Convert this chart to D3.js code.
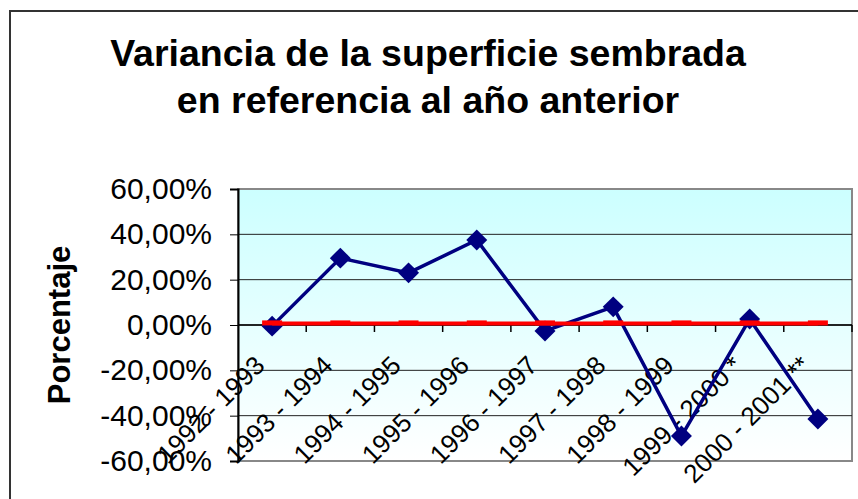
<!DOCTYPE html>
<style>
body { margin: 0; background: #fff; }
text { font-family: Arial, "Liberation Sans", sans-serif; }
</style>
<body>
<script src="https://d3js.org/d3.v7.min.js"></script>
<script>
var width = 858, height = 499;

// chart values
var categories = ["1992 - 1993", "1993 - 1994", "1994 - 1995", "1995 - 1996", "1996 - 1997",
                  "1997 - 1998", "1998 - 1999", "1999 - 2000 *", "2000 - 2001 **"];
var variance = [-0.005, 0.295, 0.23, 0.375, -0.026, 0.08, -0.49, 0.026, -0.415];
var reference = [0.007, 0.007, 0.007, 0.007, 0.007, 0.007, 0.007, 0.007, 0.007];
var yTicks = [0.6, 0.4, 0.2, 0, -0.2, -0.4, -0.6];
var titleLines = ["Variancia de la superficie sembrada", "en referencia al año anterior"];

var svg = d3.select("body").append("svg")
    .attr("width", width)
    .attr("height", height);

var locale = d3.formatLocale({decimal: ",", thousands: ".", grouping: [3], currency: ["", "€"], minus: "-"});
var fmt = locale.format(".2%");

var x = d3.scaleBand().domain(categories).range([238, 852]);
var y = d3.scaleLinear().domain([-0.6, 0.6]).range([461, 189]);

// outer chart border
svg.append("rect")
   .attr("x", 10).attr("y", 11)
   .attr("width", 900).attr("height", 600)
   .attr("fill", "none")
   .attr("stroke", "#333")
   .attr("stroke-width", 2);

// title
svg.append("g").selectAll("text")
   .data(titleLines)
   .enter().append("text")
   .attr("x", 428)
   .attr("y", function(d, i) { return 66 + i * 47; })
   .attr("text-anchor", "middle")
   .attr("font-size", 37.5)
   .attr("font-weight", "bold")
   .text(function(d) { return d; });

// plot background
var grad = svg.append("defs").append("linearGradient")
   .attr("id", "bg").attr("x1", 0).attr("y1", 0).attr("x2", 0).attr("y2", 1);
grad.append("stop").attr("offset", "0%").attr("stop-color", "#ccffff");
grad.append("stop").attr("offset", "100%").attr("stop-color", "#ffffff");

svg.append("rect")
   .attr("x", x.range()[0]).attr("y", y(0.6))
   .attr("width", x.range()[1] - x.range()[0])
   .attr("height", y(-0.6) - y(0.6))
   .attr("fill", "url(#bg)")
   .attr("stroke", "#888")
   .attr("stroke-width", 2);

// gridlines
svg.append("g").selectAll("line")
   .data(yTicks.filter(function(d) { return Math.abs(d) < 0.6; }))
   .enter().append("line")
   .attr("x1", x.range()[0]).attr("x2", x.range()[1])
   .attr("y1", function(d) { return y(d); })
   .attr("y2", function(d) { return y(d); })
   .attr("stroke", "#222")
   .attr("stroke-width", 1);

// y axis
var yAxis = svg.append("g")
   .attr("transform", "translate(" + x.range()[0] + ",0)")
   .call(d3.axisLeft(y).tickValues(yTicks).tickFormat(fmt).tickSize(8).tickPadding(18));
yAxis.select(".domain").attr("stroke", "#000").attr("stroke-width", 2);
yAxis.selectAll("text").attr("font-size", 30).attr("font-family", "Arial, 'Liberation Sans', sans-serif").attr("fill", "#000");

svg.append("text")
   .attr("transform", "translate(70,325) rotate(-90)")
   .attr("text-anchor", "middle")
   .attr("font-size", 31)
   .attr("font-weight", "bold")
   .text("Porcentaje");

// x axis at zero
var bounds = categories.map(function(c) { return x(c); }).concat([x.range()[1]]);
svg.append("line")
   .attr("x1", x.range()[0]).attr("x2", x.range()[1])
   .attr("y1", y(0)).attr("y2", y(0))
   .attr("stroke", "#000").attr("stroke-width", 1.5);
svg.append("g").selectAll("line")
   .data(bounds.slice(1))
   .enter().append("line")
   .attr("x1", function(d) { return d; }).attr("x2", function(d) { return d; })
   .attr("y1", y(0)).attr("y2", y(0) + 7)
   .attr("stroke", "#000").attr("stroke-width", 1.5);

svg.append("g").selectAll("text")
   .data(categories)
   .enter().append("text")
   .attr("transform", function(d) {
     return "translate(" + (x(d) + x.bandwidth() / 2 - 6) + "," + (y(0) + 42) + ") rotate(-45)";
   })
   .attr("text-anchor", "end")
   .attr("font-size", 26)
   .text(function(d) { return d; });

// series
var cx = function(d, i) { return x(categories[i]) + x.bandwidth() / 2; };

svg.append("path")
   .datum(variance)
   .attr("fill", "none")
   .attr("stroke", "#000080")
   .attr("stroke-width", 3.5)
   .attr("d", d3.line().x(cx).y(function(d) { return y(d); }));

svg.append("g").selectAll("path")
   .data(variance)
   .enter().append("path")
   .attr("transform", function(d, i) { return "translate(" + cx(d, i) + "," + y(d) + ") rotate(45)"; })
   .attr("d", d3.symbol(d3.symbolSquare, 220))
   .attr("fill", "#000080");

svg.append("path")
   .datum(reference)
   .attr("fill", "none")
   .attr("stroke", "#ff0000")
   .attr("stroke-width", 4)
   .attr("d", d3.line().x(cx).y(function(d) { return y(d); }));

svg.append("g").selectAll("rect")
   .data(reference)
   .enter().append("rect")
   .attr("x", function(d, i) { return cx(d, i) - 10; })
   .attr("y", function(d) { return y(d) - 3; })
   .attr("width", 20).attr("height", 5)
   .attr("fill", "#ff0000");
</script>
</body>
